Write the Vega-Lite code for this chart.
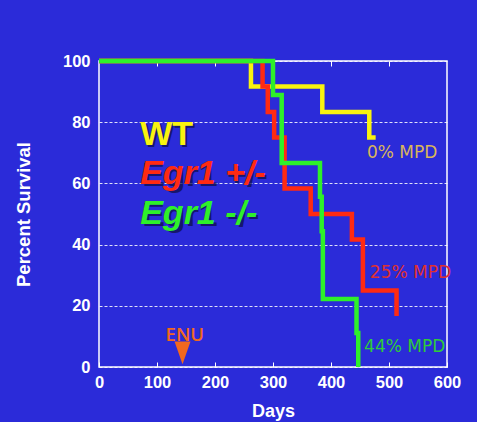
{
  "$schema": "https://vega.github.io/schema/vega-lite/v6.json",
  "width": 348,
  "height": 306,
  "autosize": "none",
  "padding": {"left": 99, "top": 61, "right": 30, "bottom": 55},
  "background": "#2B2BD9",
  "config": {"view": {"stroke": "white", "strokeWidth": 1.5}, "font": "Liberation Sans"},
  "datasets": {
    "curves": [
      {"group": "WT", "days": 0, "pct": 100},
      {"group": "WT", "days": 262, "pct": 91.7},
      {"group": "WT", "days": 385, "pct": 83.3},
      {"group": "WT", "days": 466, "pct": 75},
      {"group": "WT", "days": 477, "pct": 75},
      {"group": "Egr1 +/-", "days": 0, "pct": 100},
      {"group": "Egr1 +/-", "days": 282, "pct": 91.7},
      {"group": "Egr1 +/-", "days": 291, "pct": 83.3},
      {"group": "Egr1 +/-", "days": 302, "pct": 75},
      {"group": "Egr1 +/-", "days": 320, "pct": 58.3},
      {"group": "Egr1 +/-", "days": 365, "pct": 50},
      {"group": "Egr1 +/-", "days": 436, "pct": 41.7},
      {"group": "Egr1 +/-", "days": 455, "pct": 25},
      {"group": "Egr1 +/-", "days": 513, "pct": 16.7},
      {"group": "Egr1 -/-", "days": 0, "pct": 100},
      {"group": "Egr1 -/-", "days": 300, "pct": 88.9},
      {"group": "Egr1 -/-", "days": 315, "pct": 66.7},
      {"group": "Egr1 -/-", "days": 381, "pct": 55.6},
      {"group": "Egr1 -/-", "days": 384, "pct": 44.4},
      {"group": "Egr1 -/-", "days": 386, "pct": 22.2},
      {"group": "Egr1 -/-", "days": 444, "pct": 11.1},
      {"group": "Egr1 -/-", "days": 447, "pct": 0}
    ],
    "labels": [
      {"label": "WT", "days": 71, "pct": 72.5},
      {"label": "Egr1 +/-", "days": 71, "pct": 59.8},
      {"label": "Egr1 -/-", "days": 71, "pct": 46.7},
      {"label": "0% MPD", "days": 462, "pct": 68.3},
      {"label": "25% MPD", "days": 467, "pct": 29},
      {"label": "44% MPD", "days": 457, "pct": 5},
      {"label": "ENU", "days": 148, "pct": 8.5}
    ],
    "marker": [
      {"label": "ENU", "days": 144, "pct": 4.6}
    ]
  },
  "resolve": {"axis": {"x": "independent"}},
  "layer": [
    {
      "data": {"name": "curves"},
      "transform": [{"filter": "datum.group === 'WT'"}],
      "mark": {"type": "line", "interpolate": "step-after", "strokeWidth": 4.5},
      "encoding": {
        "x": {"field": "days", "type": "quantitative", "scale": {"domain": [0, 600], "nice": false},
          "axis": {"orient": "bottom", "values": [0, 100, 200, 300, 400, 500, 600], "title": "Days", "grid": false, "domain": false,
            "tickColor": "white", "tickSize": -5, "tickWidth": 1, "labelPadding": 12, "labelFlush": false, "labelOverlap": false,
            "labelColor": "white", "labelFontWeight": "bold", "labelFontSize": 16.5,
            "titleColor": "white", "titleFontSize": 18, "titleFontWeight": "bold", "titleX": 174, "titleY": 49, "titleBaseline": "alphabetic"}},
        "y": {"field": "pct", "type": "quantitative", "scale": {"domain": [0, 100], "nice": false},
          "axis": {"values": [0, 20, 40, 60, 80, 100], "title": "Percent Survival", "ticks": false, "domain": false,
            "grid": true, "gridColor": "white", "gridDash": [3, 2], "gridWidth": 1, "gridOpacity": 0.85,
            "labelColor": "white", "labelFontWeight": "bold", "labelFontSize": 16.5, "labelPadding": 9, "labelFlush": false, "labelOverlap": false,
            "titleColor": "white", "titleFontSize": 18.5, "titleFontWeight": "bold", "titleX": -70, "titleY": 153, "titleAngle": -90,
            "titleAlign": "center", "titleBaseline": "alphabetic"}},
        "color": {"field": "group", "type": "nominal", "legend": null,
          "scale": {"domain": ["WT", "Egr1 +/-", "Egr1 -/-", "0% MPD", "25% MPD", "44% MPD", "ENU"],
            "range": ["#F9F30F", "#FF2A12", "#2EF02A", "#D9B65A", "#E0302E", "#2ECC3A", "#F2681E"]}}
      }
    },
    {
      "data": {"name": "curves"},
      "transform": [{"filter": "datum.group === 'Egr1 +/-'"}],
      "mark": {"type": "line", "interpolate": "step-after", "strokeWidth": 4.5},
      "encoding": {
        "x": {"field": "days", "type": "quantitative",
          "axis": {"orient": "top", "values": [100, 200, 300, 400, 500], "labels": false, "title": null, "grid": false, "domain": false,
            "tickColor": "white", "tickSize": -5, "tickWidth": 1}},
        "y": {"field": "pct", "type": "quantitative"},
        "color": {"field": "group", "type": "nominal", "legend": null}
      }
    },
    {
      "data": {"name": "curves"},
      "transform": [{"filter": "datum.group === 'Egr1 -/-'"}],
      "mark": {"type": "line", "interpolate": "step-after", "strokeWidth": 4.5},
      "encoding": {
        "x": {"field": "days", "type": "quantitative", "axis": null},
        "y": {"field": "pct", "type": "quantitative"},
        "color": {"field": "group", "type": "nominal", "legend": null}
      }
    },
    {
      "data": {"name": "labels"},
      "transform": [{"filter": "datum.label === 'WT' || datum.label === 'Egr1 +/-' || datum.label === 'Egr1 -/-'"}],
      "mark": {"type": "text", "align": "left", "baseline": "alphabetic", "fontSize": 34, "fontWeight": "bold", "dx": 2, "dy": 2, "color": "#10104A", "opacity": 0.75},
      "encoding": {
        "x": {"field": "days", "type": "quantitative", "axis": null},
        "y": {"field": "pct", "type": "quantitative"},
        "text": {"field": "label"}
      }
    },
    {
      "data": {"name": "labels"},
      "transform": [{"filter": "datum.label === 'WT'"}],
      "mark": {"type": "text", "align": "left", "baseline": "alphabetic", "fontSize": 34, "fontWeight": "bold"},
      "encoding": {
        "x": {"field": "days", "type": "quantitative", "axis": null},
        "y": {"field": "pct", "type": "quantitative"},
        "text": {"field": "label"},
        "color": {"field": "label", "type": "nominal", "legend": null}
      }
    },
    {
      "data": {"name": "labels"},
      "transform": [{"filter": "datum.label === 'Egr1 +/-' || datum.label === 'Egr1 -/-'"}],
      "mark": {"type": "text", "align": "left", "baseline": "alphabetic", "fontSize": 34, "fontWeight": "bold", "fontStyle": "italic"},
      "encoding": {
        "x": {"field": "days", "type": "quantitative", "axis": null},
        "y": {"field": "pct", "type": "quantitative"},
        "text": {"field": "label"},
        "color": {"field": "label", "type": "nominal", "legend": null}
      }
    },
    {
      "data": {"name": "labels"},
      "transform": [{"filter": "indexof(datum.label, 'MPD') >= 0"}],
      "mark": {"type": "text", "align": "left", "baseline": "alphabetic", "fontSize": 17, "font": "DejaVu Sans"},
      "encoding": {
        "x": {"field": "days", "type": "quantitative", "axis": null},
        "y": {"field": "pct", "type": "quantitative"},
        "text": {"field": "label"},
        "color": {"field": "label", "type": "nominal", "legend": null}
      }
    },
    {
      "data": {"name": "labels"},
      "transform": [{"filter": "datum.label === 'ENU'"}],
      "mark": {"type": "text", "align": "center", "baseline": "alphabetic", "fontSize": 18.5, "font": "Open Sans", "fontWeight": 600},
      "encoding": {
        "x": {"field": "days", "type": "quantitative", "axis": null},
        "y": {"field": "pct", "type": "quantitative"},
        "text": {"field": "label"},
        "color": {"field": "label", "type": "nominal", "legend": null}
      }
    },
    {
      "data": {"name": "marker"},
      "mark": {"type": "point", "shape": "M-0.7,-1L0.7,-1L0,1Z", "filled": true, "size": 520, "opacity": 1},
      "encoding": {
        "x": {"field": "days", "type": "quantitative", "axis": null},
        "y": {"field": "pct", "type": "quantitative"},
        "color": {"field": "label", "type": "nominal", "legend": null}
      }
    }
  ]
}
